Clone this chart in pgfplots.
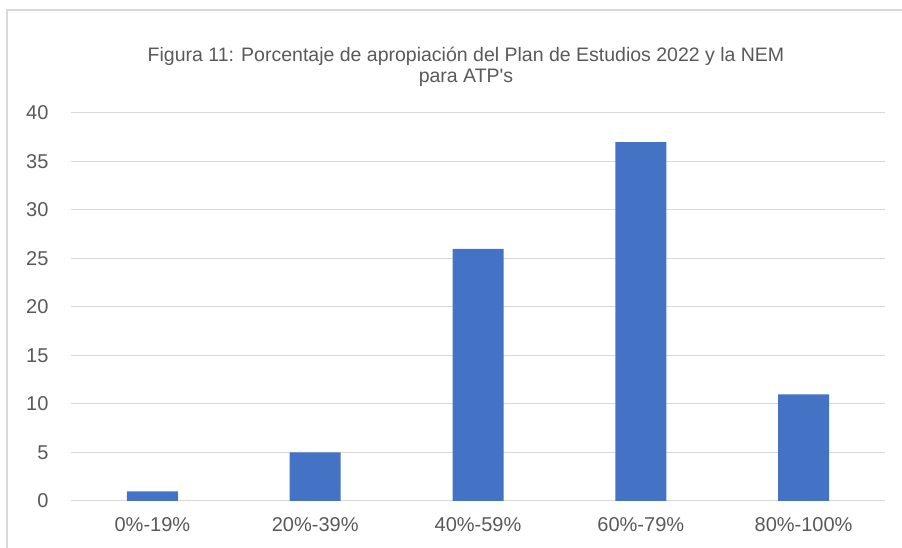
\documentclass[border=0pt]{standalone}
\usepackage{pgfplots}
\pgfplotsset{compat=1.18}
\usepackage{fontspec}
\setmainfont{Liberation Sans}
\definecolor{barblue}{HTML}{4472C4}
\definecolor{txtgray}{HTML}{595959}
\definecolor{gridgray}{HTML}{D9D9D9}
\begin{document}
\begin{tikzpicture}
\begin{axis}[
  scale only axis, width=814bp, height=388bp,
  xmin=-0.5, xmax=4.5, ymin=0, ymax=40,
  ytick={0,5,...,40},
  xtick={0,1,2,3,4},
  xticklabels={0\%-19\%,20\%-39\%,40\%-59\%,60\%-79\%,80\%-100\%},
  axis line style={draw=none},
  axis x line*=bottom,
  x axis line style={draw=gridgray, line width=1bp},
  tick style={draw=none},
  ymajorgrids, grid style={gridgray, line width=1bp},
  ticklabel style={txtgray, font=\fontsize{20bp}{22bp}\selectfont},
  /pgf/number format/assume math mode=true,
  yticklabel style={xshift=-19bp},
  xticklabel style={yshift=-9bp},
  ybar, bar width=51bp,
]
\addplot[fill=barblue, draw=none] coordinates {(0,1) (1,5) (2,26) (3,37) (4,11)};
\coordinate (bl) at (rel axis cs:0,0);
\end{axis}
\pgfresetboundingbox
\begin{scope}[shift={(bl)}, x=1bp, y=1bp]
\path[use as bounding box] (-71,-47) rectangle (831,501);
\draw[gridgray, line width=1.2bp] (-64,-60) -- (-64,491) -- (850,491);
\node[txtgray, font=\fontsize{19.5bp}{21bp}\selectfont, align=center] at (395,434)
  {Figura 11: Porcentaje de apropiación del Plan de Estudios 2022 y la NEM\\para ATP\textquotesingle s};
\end{scope}
\end{tikzpicture}
\end{document}
